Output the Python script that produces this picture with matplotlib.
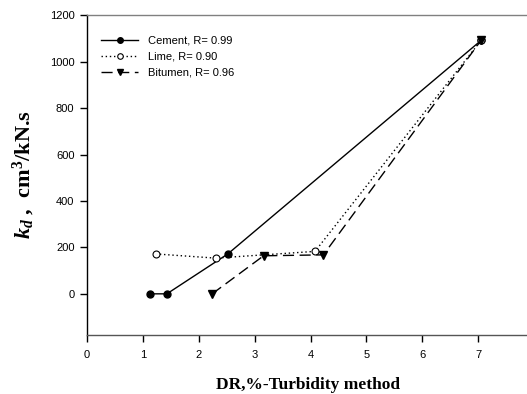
import numpy as np
import matplotlib
matplotlib.use('Agg')
import matplotlib.pyplot as plt

plt.rcParams['mathtext.fontset'] = 'custom'
plt.rcParams['mathtext.rm'] = 'Liberation Serif:bold'
plt.rcParams['mathtext.it'] = 'Liberation Serif:bold:italic'
plt.rcParams['mathtext.bf'] = 'Liberation Serif:bold'

# data
cement_x = [1.13, 1.43, 2.52, 7.05]
cement_y = [0, 0, 172, 1092]
lime_x = [1.23, 2.30, 4.08, 7.05]
lime_y = [172, 154, 183, 1092]
bitumen_x = [2.24, 3.16, 4.23, 7.05]
bitumen_y = [0, 164, 168, 1092]

fig = plt.figure(figsize=(5.27, 3.94), dpi=100)
ax = fig.add_axes([0.165, 0.15, 0.84, 0.812])

ax.plot(cement_x, cement_y, c='k', lw=1, ls='-', marker='o', ms=5,
        mfc='k', mec='k', label='Cement, R= 0.99')
ax.plot(lime_x, lime_y, c='k', lw=1, ls=(0, (1, 2)), marker='o', ms=5,
        mfc='white', mec='k', mew=0.8, label='Lime, R= 0.90')
ax.plot(bitumen_x, bitumen_y, c='k', lw=1, ls=(0, (8, 4)), marker='v', ms=6,
        mfc='k', mec='k', label='Bitumen, R= 0.96')

ax.set_xlim(0, 7.92)
ax.set_ylim(-177, 1202)
ax.set_xticks(range(0, 8))
ax.set_yticks(range(0, 1201, 200))

ax.spines['right'].set_visible(False)
ax.spines['top'].set_color('#808080')
ax.spines['bottom'].set_color('#555555')
ax.spines['left'].set_color('k')
for s in ax.spines.values():
    s.set_linewidth(1)
ax.tick_params(direction='out', length=5, width=1, labelsize=8, colors='k')
ax.tick_params(axis='x', pad=6)
ax.tick_params(axis='y', pad=4)
for lab in ax.get_xticklabels() + ax.get_yticklabels():
    lab.set_family('Liberation Sans')

ax.set_xlabel('DR,%-Turbidity method', family='Liberation Serif',
              fontweight='bold', fontsize=12.5, labelpad=12)
ax.set_ylabel(r'$k_d$ ,  cm$^3$/kN.s', family='Liberation Serif',
              fontweight='bold', fontsize=16, labelpad=9)

leg = ax.legend(loc='upper left', bbox_to_anchor=(0.01, 0.967), frameon=False,
                prop={'family': 'Liberation Sans', 'size': 8},
                handlelength=3.3, handletextpad=0.9, labelspacing=0.55,
                borderaxespad=0.5, markerscale=0.8)

plt.savefig('out.png', dpi=100)
